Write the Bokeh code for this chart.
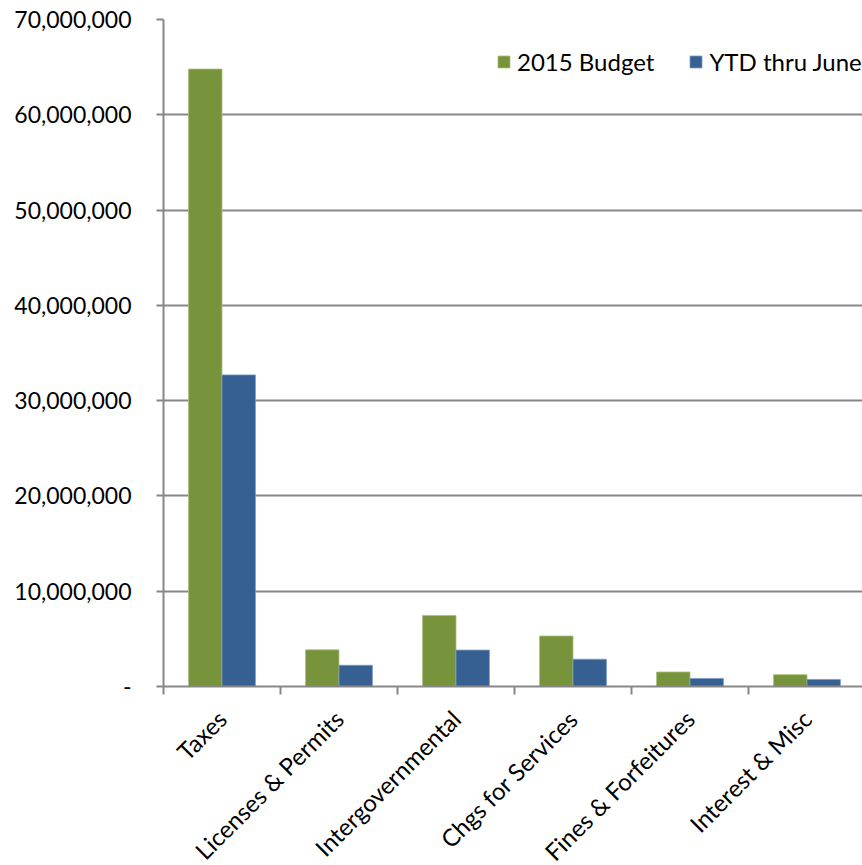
import math
from bokeh.plotting import figure
from bokeh.models import ColumnDataSource, FixedTicker, NumeralTickFormatter, Legend, LegendItem
from bokeh.transform import dodge
from bokeh.embed import file_html
from bokeh.resources import INLINE

categories = ["Taxes", "Licenses & Permits", "Intergovernmental",
              "Chgs for Services", "Fines & Forfeitures", "Interest & Misc"]
budget_2015 = [64800000, 3850000, 7460000, 5300000, 1520000, 1240000]
ytd_june = [32700000, 2230000, 3820000, 2860000, 850000, 740000]
series_names = ["2015 Budget", "YTD thru June"]
y_ticks = [0, 10000000, 20000000, 30000000, 40000000, 50000000, 60000000, 70000000]

GREEN = "#77933C"
BLUE = "#376092"
GRID = "#878787"
FONT = "Lato"

centers = [i + 0.5 for i in range(len(categories))]
source = ColumnDataSource(dict(x=centers, budget=budget_2015, ytd=ytd_june))

frame_left = 163
frame_top = 19
frame_w = 862 - frame_left
frame_h = 686 - frame_top
cat_px = 117.0

p = figure(frame_width=frame_w, frame_height=frame_h,
           output_backend="svg", toolbar_location=None,
           x_range=(0, frame_w / cat_px), y_range=(0, 70000000),
           min_border_left=frame_left, min_border_top=frame_top,
           min_border_right=0, min_border_bottom=0)
p.outline_line_color = None
p.background_fill_color = "white"
p.border_fill_color = "white"

bw = 1 / 3.5
r1 = p.vbar(x=dodge("x", -bw / 2), top="budget", width=bw, source=source,
            fill_color=GREEN, line_color="#a9c07a", line_width=0.8)
r2 = p.vbar(x=dodge("x", bw / 2), top="ytd", width=bw, source=source,
            fill_color=BLUE, line_color="#7d9cc4", line_width=0.8)

# y axis
p.yaxis.ticker = FixedTicker(ticks=y_ticks)
p.yaxis.formatter = NumeralTickFormatter(format="0,0")
p.yaxis.major_label_overrides = {0: "-"}
p.yaxis.axis_line_color = GRID
p.yaxis.axis_line_width = 2
p.yaxis.major_tick_line_color = GRID
p.yaxis.major_tick_line_width = 2
p.yaxis.major_tick_out = 7
p.yaxis.major_tick_in = 0
p.yaxis.minor_tick_line_color = None
p.yaxis.major_label_text_font = FONT
p.yaxis.major_label_text_font_size = "23px"
p.yaxis.major_label_text_color = "#000000"
p.yaxis.major_label_standoff = 25

# x axis
p.xaxis.ticker = FixedTicker(ticks=centers, minor_ticks=list(range(len(categories) + 1)))
p.xaxis.major_label_overrides = {c: lab for c, lab in zip(centers, categories)}
p.xaxis.major_label_orientation = math.pi / 4
p.xaxis.axis_line_color = GRID
p.xaxis.axis_line_width = 2
p.xaxis.major_tick_line_color = None
p.xaxis.major_tick_out = 0
p.xaxis.major_tick_in = 0
p.xaxis.minor_tick_line_color = GRID
p.xaxis.minor_tick_line_width = 2
p.xaxis.minor_tick_out = 8
p.xaxis.minor_tick_in = 0
p.xaxis.major_label_text_font = FONT
p.xaxis.major_label_text_font_size = "24px"
p.xaxis.major_label_text_color = "#000000"
p.xaxis.major_label_standoff = 20

p.xgrid.grid_line_color = None
p.ygrid.ticker = FixedTicker(ticks=y_ticks)
p.ygrid.grid_line_color = GRID
p.ygrid.grid_line_width = 2

legend = Legend(items=[LegendItem(label=series_names[0], renderers=[r1]),
                       LegendItem(label=series_names[1], renderers=[r2])],
                orientation="horizontal", location=(333, 610),
                border_line_color=None, background_fill_alpha=0,
                label_text_font=FONT, label_text_font_size="24px",
                label_text_color="#000000",
                glyph_width=15, glyph_height=15, spacing=34,
                label_standoff=6, margin=0, padding=0)
p.add_layout(legend)

open("out.html", "w").write(file_html(p, INLINE))
